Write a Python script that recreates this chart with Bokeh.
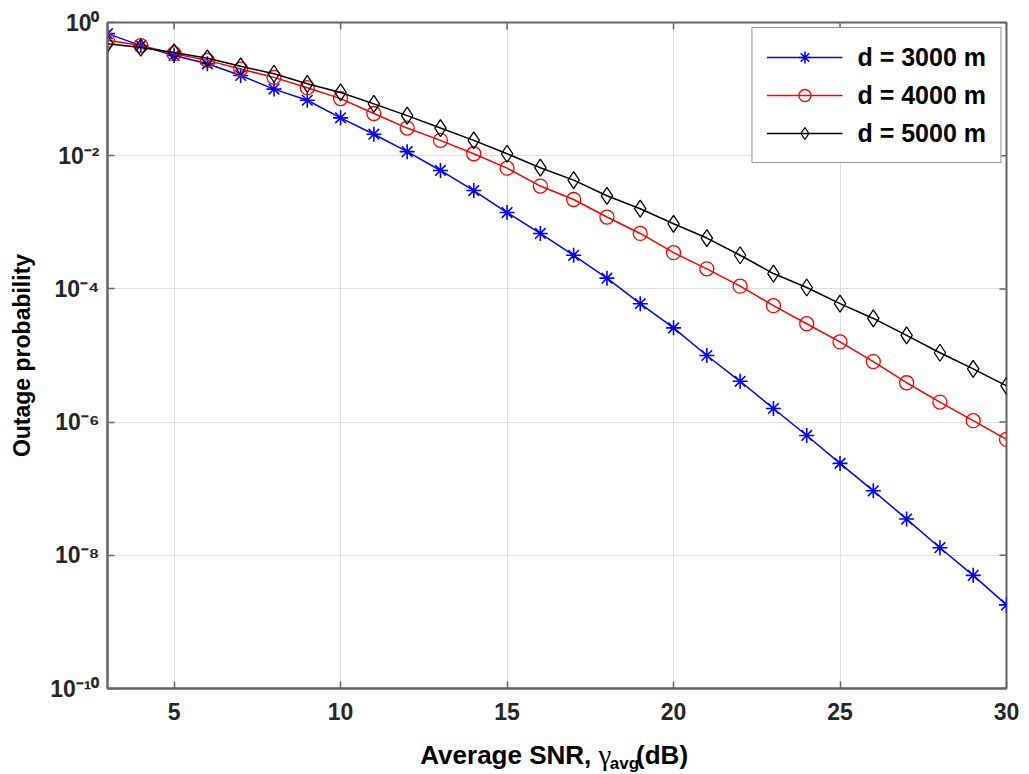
from bokeh.plotting import figure
from bokeh.layouts import column
from bokeh.models import (Range1d, FixedTicker, Legend, LegendItem)
from bokeh.core.properties import value
from bokeh.embed import file_html
from bokeh.resources import INLINE

# ---------------- data ----------------
snr_db = [3, 4, 5, 6, 7, 8, 9, 10, 11, 12, 13, 14, 15, 16, 17, 18, 19, 20,
          21, 22, 23, 24, 25, 26, 27, 28, 29, 30]

pout_3000 = [0.68, 0.45, 0.32, 0.24, 0.16, 0.10, 0.068, 0.037, 0.021, 0.0115,
             6.0e-3, 3.0e-3, 1.4e-3, 6.8e-4, 3.2e-4, 1.45e-4, 6.0e-5, 2.6e-5,
             1.0e-5, 4.1e-6, 1.6e-6, 6.3e-7, 2.4e-7, 9.3e-8, 3.5e-8, 1.3e-8,
             5.0e-9, 1.8e-9]

pout_4000 = [0.54, 0.45, 0.34, 0.27, 0.20, 0.15, 0.105, 0.072, 0.043, 0.026,
             0.017, 0.0107, 6.5e-3, 3.5e-3, 2.2e-3, 1.2e-3, 6.8e-4, 3.5e-4,
             2.0e-4, 1.1e-4, 5.6e-5, 3.0e-5, 1.6e-5, 8.1e-6, 3.9e-6, 2.0e-6,
             1.05e-6, 5.5e-7]

pout_5000 = [0.48, 0.42, 0.355, 0.29, 0.22, 0.17, 0.12, 0.089, 0.06, 0.04,
             0.026, 0.017, 0.0107, 6.6e-3, 4.3e-3, 2.5e-3, 1.6e-3, 9.5e-4,
             5.8e-4, 3.2e-4, 1.7e-4, 1.05e-4, 6.0e-5, 3.6e-5, 2.0e-5, 1.1e-5,
             6.3e-6, 3.5e-6]

series_labels = ["d = 3000 m", "d = 4000 m", "d = 5000 m"]

x_ticks = [5, 10, 15, 20, 25, 30]
y_ticks = [1e-10, 1e-8, 1e-6, 1e-4, 1e-2, 1e0]
y_tick_labels = ["10⁻¹⁰", "10⁻⁸", "10⁻⁶", "10⁻⁴", "10⁻²", "10⁰"]

y_label = "Outage probability"
x_label_main = "Average SNR, "
x_label_sym = "γ"
x_label_sub = "avg"
x_label_unit = "(dB)"

X_MIN, X_MAX = 3, 30
Y_MIN, Y_MAX = 1e-10, 1e0

# ---------------- styling ----------------
FONT = "Liberation Sans"
AXIS_COLOR = "#636363"
GRID_COLOR = "#e0e0e0"
W = 1029
H_MAIN = 732
H_LABEL = 42

p = figure(width=W, height=H_MAIN,
           x_range=Range1d(X_MIN, X_MAX), y_range=Range1d(Y_MIN, Y_MAX),
           y_axis_type="log", output_backend="svg", toolbar_location=None,
           min_border_left=107, min_border_right=23,
           min_border_top=22, min_border_bottom=44)

p.background_fill_color = "white"
p.border_fill_color = "white"
p.outline_line_color = AXIS_COLOR
p.outline_line_width = 2

# grids
p.xgrid.ticker = FixedTicker(ticks=x_ticks)
p.ygrid.ticker = FixedTicker(ticks=y_ticks, minor_ticks=[])
for g in (p.xgrid[0], p.ygrid[0]):
    g.grid_line_color = GRID_COLOR
    g.grid_line_width = 1

# x axis (bottom)
xa = p.xaxis[0]
xa.ticker = FixedTicker(ticks=x_ticks)
xa.major_tick_in = 7
xa.major_tick_out = 0
xa.minor_tick_line_color = None
xa.axis_line_color = AXIS_COLOR
xa.axis_line_width = 2
xa.major_tick_line_color = AXIS_COLOR
xa.major_tick_line_width = 1.5
xa.major_label_text_font = FONT
xa.major_label_text_font_style = "bold"
xa.major_label_text_font_size = "23px"
xa.major_label_text_color = "#262626"
xa.major_label_standoff = 14

# y axis (left)
ya = p.yaxis[0]
ya.ticker = FixedTicker(ticks=y_ticks, minor_ticks=[])
ya.major_label_overrides = {t: s for t, s in zip(y_ticks, y_tick_labels)}
ya.major_tick_in = 7
ya.major_tick_out = 0
ya.minor_tick_line_color = None
ya.axis_line_color = AXIS_COLOR
ya.axis_line_width = 2
ya.major_tick_line_color = AXIS_COLOR
ya.major_tick_line_width = 1.5
ya.major_label_text_font = FONT
ya.major_label_text_font_style = "bold"
ya.major_label_text_font_size = "23px"
ya.major_label_text_color = "#262626"
ya.major_label_standoff = 8
ya.axis_label = y_label
ya.axis_label_text_font = FONT
ya.axis_label_text_font_style = "bold"
ya.axis_label_text_font_size = "23px"
ya.axis_label_text_color = "#000000"
ya.axis_label_standoff = 12

# inward box ticks on the top and right edges (half of each dash is clipped)
p.scatter(x_ticks, [Y_MAX] * len(x_ticks), marker="dash", angle=1.5708,
          size=14, line_color=AXIS_COLOR, line_width=1.5)
p.scatter([X_MAX] * len(y_ticks), y_ticks, marker="dash",
          size=14, line_color=AXIS_COLOR, line_width=1.5)

# ---------------- series ----------------
l1 = p.line(snr_db, pout_3000, line_color="#0000ff", line_width=1.5)
m1 = p.scatter(snr_db, pout_3000, marker="asterisk", size=15,
               line_color="#0000ff", line_width=1.6)
l2 = p.line(snr_db, pout_4000, line_color="#ff0000", line_width=1.5)
m2 = p.scatter(snr_db, pout_4000, marker="circle", size=14,
               line_color="#ff0000", fill_color=None, line_width=1.3)
l3 = p.line(snr_db, pout_5000, line_color="#000000", line_width=1.5)
m3 = p.scatter(snr_db, pout_5000, marker="diamond", size=17,
               line_color="#000000", fill_color=None, line_width=1.3)

legend = Legend(items=[
    LegendItem(label=series_labels[0], renderers=[l1, m1]),
    LegendItem(label=series_labels[1], renderers=[l2, m2]),
    LegendItem(label=series_labels[2], renderers=[l3, m3]),
], location="top_right")
legend.margin = 5
legend.padding = 14
legend.spacing = 8
legend.glyph_width = 76
legend.glyph_height = 30
legend.label_height = 30
legend.label_standoff = 15
legend.label_text_font = FONT
legend.label_text_font_style = "bold"
legend.label_text_font_size = "25px"
legend.label_text_color = "#000000"
legend.border_line_color = "#2b2b2b"
legend.border_line_width = 1.5
legend.background_fill_color = "white"
legend.background_fill_alpha = 1.0
p.add_layout(legend)

# ---------------- x axis label strip (with subscript) ----------------
q = figure(width=W, height=H_LABEL, x_range=Range1d(0, W),
           y_range=Range1d(0, H_LABEL), x_axis_type=None, y_axis_type=None,
           output_backend="svg", toolbar_location=None, min_border=0)
q.outline_line_color = None
q.grid.visible = False
q.background_fill_color = "white"
q.border_fill_color = "white"

base_y = 20      # baseline of the main label text (label strip pixels from bottom)
sub_y = 11       # baseline of the subscript
x_sym = 562      # where the gamma starts
q.text(x=[x_sym], y=[base_y], text=[x_label_main], text_align="right",
       text_baseline="alphabetic", text_font=value(FONT),
       text_font_style="bold", text_font_size="26px", text_color="#000000")
q.text(x=[x_sym], y=[base_y], text=[x_label_sym], text_align="left",
       text_baseline="alphabetic", text_font=value("Liberation Serif"),
       text_font_style="normal", text_font_size="29px", text_color="#000000")
q.text(x=[x_sym + 13], y=[sub_y], text=[x_label_sub], text_align="left",
       text_baseline="alphabetic", text_font=value(FONT),
       text_font_style="bold", text_font_size="17px", text_color="#000000")
q.text(x=[x_sym + 43], y=[base_y], text=[x_label_unit], text_align="left",
       text_baseline="alphabetic", text_font=value(FONT),
       text_font_style="bold", text_font_size="26px", text_color="#000000")

layout = column(p, q, spacing=0)
open("out.html", "w").write(file_html(layout, INLINE))
